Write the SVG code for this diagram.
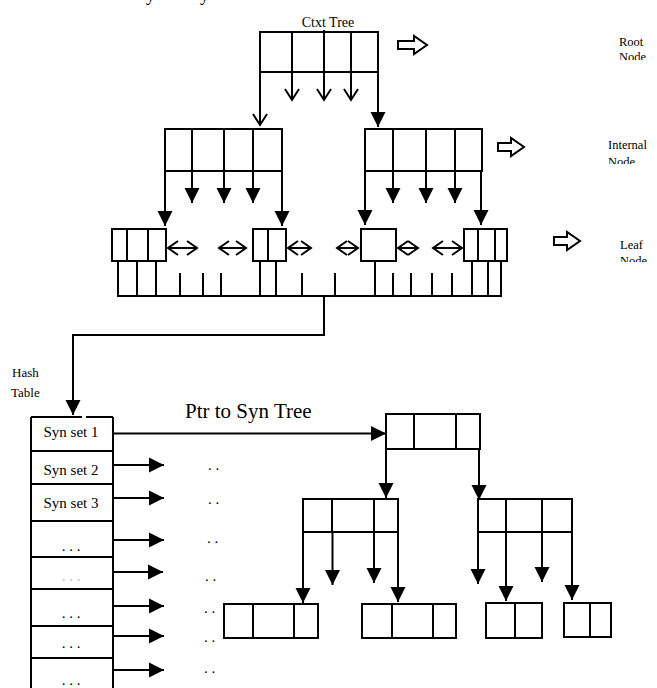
<svg xmlns="http://www.w3.org/2000/svg" width="657" height="688" viewBox="0 0 657 688">
<style>
.box{fill:#fff;stroke:#000;stroke-width:2}
.div{stroke:#000;stroke-width:2}
.ln{stroke:#000;stroke-width:2;fill:none}
.blk{fill:#fff;stroke:#000;stroke-width:2;stroke-linejoin:miter}
.t{font-family:"Liberation Serif","Times New Roman",serif;fill:#000}
.lbl{font-size:12.5px}
.syn{font-size:15px}
.dots{font-size:15px}
</style>
<defs>
<marker id="solid" markerUnits="userSpaceOnUse" markerWidth="16" markerHeight="16" refX="15" refY="7.5" orient="auto" overflow="visible"><path d="M0,0 L15,7.5 L0,15 Z" fill="#000"/></marker>
<marker id="open" markerUnits="userSpaceOnUse" markerWidth="16" markerHeight="16" refX="11" refY="7" orient="auto" overflow="visible"><path d="M0,0 L11,7 L0,14" fill="none" stroke="#000" stroke-width="2"/></marker>
<clipPath id="cRoot"><rect x="600" y="25" width="57" height="35"/></clipPath>
<clipPath id="cInt"><rect x="600" y="125" width="57" height="39"/></clipPath>
<clipPath id="cLeaf"><rect x="600" y="225" width="57" height="37"/></clipPath>
</defs>

<text class="t" x="146" y="1" font-size="18">y</text>
<text class="t" x="200" y="1" font-size="18">y</text>

<text class="t" x="328" y="27" text-anchor="middle" font-size="14">Ctxt Tree</text>

<g id="legend">
<g clip-path="url(#cRoot)"><text class="t lbl" x="619" y="46">Root</text><text class="t lbl" x="619" y="61">Node</text></g>
<g clip-path="url(#cInt)"><text class="t lbl" x="608" y="149">Internal</text><text class="t lbl" x="608" y="166">Node</text></g>
<g clip-path="url(#cLeaf)"><text class="t lbl" x="620" y="249">Leaf</text><text class="t lbl" x="620" y="265">Node</text></g>
<polygon class="blk" points="398,41 414,41 414,36 427,45 414,54 414,49 398,49"/>
<polygon class="blk" points="498,143 511,143 511,138 524,147 511,156 511,151 498,151"/>
<polygon class="blk" points="554,237 567,237 567,232 580,241 567,250 567,245 554,245"/>
</g>

<g id="ctxt-root">
<rect class="box" x="260" y="32" width="118" height="40"/>
<line class="div" x1="292" y1="32" x2="292" y2="72"/>
<line class="div" x1="324" y1="30" x2="324" y2="72"/>
<line class="div" x1="351" y1="32" x2="351" y2="72"/>
</g>

<g id="ctxt-internal-left">
<rect class="box" x="165" y="129" width="117" height="42"/>
<line class="div" x1="192" y1="129" x2="192" y2="171"/>
<line class="div" x1="224" y1="129" x2="224" y2="171"/>
<line class="div" x1="253" y1="129" x2="253" y2="171"/>
</g>

<g id="ctxt-internal-right">
<rect class="box" x="365" y="129" width="117" height="42"/>
<line class="div" x1="393" y1="129" x2="393" y2="171"/>
<line class="div" x1="426" y1="129" x2="426" y2="171"/>
<line class="div" x1="455" y1="129" x2="455" y2="171"/>
</g>

<g id="ctxt-leaf-1">
<rect class="box" x="112" y="229" width="54" height="32"/>
<line class="div" x1="127" y1="229" x2="127" y2="261"/>
<line class="div" x1="148" y1="229" x2="148" y2="261"/>
</g>
<g id="ctxt-leaf-2">
<rect class="box" x="253" y="229" width="33" height="32"/>
<line class="div" x1="268" y1="229" x2="268" y2="261"/>
</g>
<g id="ctxt-leaf-3">
<rect class="box" x="361" y="229" width="35" height="32"/>
</g>
<g id="ctxt-leaf-4">
<rect class="box" x="464" y="229" width="43" height="32"/>
<line class="div" x1="478" y1="229" x2="478" y2="261"/>
<line class="div" x1="495" y1="229" x2="495" y2="261"/>
</g>

<g id="hash-label">
<text class="t" x="12" y="377" font-size="13">Hash</text>
<text class="t" x="11" y="397" font-size="13">Table</text>
</g>

<g id="hash-table">
<path class="ln" d="M31,417 H82 M86,417 H113 M31,417 V690 M113,417 V690 M31,451 H113 M31,484 H113 M31,521 H113 M31,557 H113 M31,589 H113 M31,626 H113 M31,658 H113"/>
<text class="t syn" x="71" y="437" text-anchor="middle">Syn set 1</text>
<text class="t syn" x="71" y="475" text-anchor="middle">Syn set 2</text>
<text class="t syn" x="71" y="508" text-anchor="middle">Syn set 3</text>
<text class="t dots" x="71" y="551" text-anchor="middle">. . .</text>
<text class="t dots" x="71" y="581" text-anchor="middle" style="fill:#bbb">. . .</text>
<text class="t dots" x="71" y="618" text-anchor="middle">. . .</text>
<text class="t dots" x="71" y="648" text-anchor="middle">. . .</text>
<text class="t dots" x="71" y="685" text-anchor="middle">. . .</text>
</g>

<g id="ptr-label">
<text class="t" x="185" y="418" font-size="21">Ptr to Syn Tree</text>
</g>

<g id="dangling-dots">
<text class="t dots" x="208" y="470">. .</text>
<text class="t dots" x="208" y="504">. .</text>
<text class="t dots" x="207" y="543">. .</text>
<text class="t dots" x="205" y="581">. .</text>
<text class="t dots" x="204" y="613">. .</text>
<text class="t dots" x="204" y="642">. .</text>
<text class="t dots" x="204" y="673">. .</text>
</g>

<g id="syn-root">
<rect class="box" x="386" y="414" width="94" height="35"/>
<line class="div" x1="414" y1="414" x2="414" y2="449"/>
<line class="div" x1="456" y1="414" x2="456" y2="449"/>
</g>
<g id="syn-internal-left">
<rect class="box" x="303" y="499" width="95" height="33"/>
<line class="div" x1="332" y1="499" x2="332" y2="532"/>
<line class="div" x1="374" y1="499" x2="374" y2="532"/>
</g>
<g id="syn-internal-right">
<rect class="box" x="478" y="499" width="94" height="33"/>
<line class="div" x1="506" y1="499" x2="506" y2="532"/>
<line class="div" x1="542" y1="499" x2="542" y2="532"/>
</g>
<g id="syn-leaf-a">
<rect class="box" x="224" y="604" width="94" height="34"/>
<line class="div" x1="253" y1="604" x2="253" y2="638"/>
<line class="div" x1="294" y1="604" x2="294" y2="638"/>
</g>
<g id="syn-leaf-b">
<rect class="box" x="362" y="604" width="94" height="34"/>
<line class="div" x1="392" y1="604" x2="392" y2="638"/>
<line class="div" x1="433" y1="604" x2="433" y2="638"/>
</g>
<g id="syn-leaf-c">
<rect class="box" x="486" y="603" width="56" height="35"/>
<line class="div" x1="515" y1="603" x2="515" y2="638"/>
</g>
<g id="syn-leaf-d">
<rect class="box" x="564" y="603" width="47" height="34"/>
<line class="div" x1="590" y1="603" x2="590" y2="637"/>
</g>

<g id="connectors">
<line class="ln" x1="260" y1="72" x2="260" y2="125" marker-end="url(#open)"/>
<line class="ln" x1="292" y1="72" x2="292" y2="100" marker-end="url(#open)"/>
<line class="ln" x1="324" y1="72" x2="324" y2="100" marker-end="url(#open)"/>
<line class="ln" x1="351" y1="72" x2="351" y2="100" marker-end="url(#open)"/>
<line class="ln" x1="378" y1="72" x2="378" y2="127" marker-end="url(#solid)"/>
<line class="ln" x1="165" y1="171" x2="165" y2="226" marker-end="url(#solid)"/>
<line class="ln" x1="192" y1="171" x2="192" y2="203" marker-end="url(#solid)"/>
<line class="ln" x1="224" y1="171" x2="224" y2="203" marker-end="url(#solid)"/>
<line class="ln" x1="253" y1="171" x2="253" y2="203" marker-end="url(#solid)"/>
<line class="ln" x1="282" y1="171" x2="282" y2="226" marker-end="url(#solid)"/>
<line class="ln" x1="365" y1="171" x2="365" y2="225" marker-end="url(#solid)"/>
<line class="ln" x1="393" y1="171" x2="393" y2="203" marker-end="url(#solid)"/>
<line class="ln" x1="426" y1="171" x2="426" y2="203" marker-end="url(#solid)"/>
<line class="ln" x1="455" y1="171" x2="455" y2="203" marker-end="url(#solid)"/>
<line class="ln" x1="481" y1="171" x2="481" y2="225" marker-end="url(#solid)"/>
<path class="ln" d="M178,241 L168,248 L178,255 M187,241 L197,248 L187,255 M168,248 H197"/>
<path class="ln" d="M229,241 L219,248 L229,255 M236,241 L246,248 L236,255 M219,248 H246"/>
<path class="ln" d="M298,241 L288,248 L298,255 M301,241 L311,248 L301,255 M288,248 H311"/>
<path class="ln" d="M347,241 L337,248 L347,255 M348,241 L358,248 L348,255 M337,248 H358"/>
<path class="ln" d="M408,241 L398,248 L408,255 M408,241 L418,248 L408,255 M398,248 H418"/>
<path class="ln" d="M443,241 L433,248 L443,255 M452,241 L462,248 L452,255 M433,248 H462"/>
<path class="ln" d="M117,296 H502 M118,261 V296 M137,261 V296 M156,261 V296 M260,261 V296 M276,261 V296 M375,261 V296 M472,261 V296 M488,261 V296 M501,261 V296 M180,273 V296 M203,273 V296 M221,273 V296 M302,273 V296 M335,273 V296 M393,273 V296 M411,273 V296 M432,273 V296 M452,273 V296"/>
<path class="ln" d="M324,296 V335 H73 V415" marker-end="url(#solid)"/>
<line class="ln" x1="113" y1="433.5" x2="386" y2="433.5" marker-end="url(#solid)"/>
<line class="ln" x1="113" y1="465" x2="164" y2="465" marker-end="url(#solid)"/>
<line class="ln" x1="113" y1="498" x2="164" y2="498" marker-end="url(#solid)"/>
<line class="ln" x1="113" y1="540" x2="164" y2="540" marker-end="url(#solid)"/>
<line class="ln" x1="113" y1="572" x2="163" y2="572" marker-end="url(#solid)"/>
<line class="ln" x1="113" y1="606" x2="164" y2="606" marker-end="url(#solid)"/>
<line class="ln" x1="112" y1="636" x2="164" y2="636" marker-end="url(#solid)"/>
<line class="ln" x1="112" y1="670" x2="164" y2="670" marker-end="url(#solid)"/>
<line class="ln" x1="386" y1="449" x2="386" y2="498" marker-end="url(#solid)"/>
<line class="ln" x1="479" y1="450" x2="479" y2="500" marker-end="url(#solid)"/>
<line class="ln" x1="303" y1="532" x2="303" y2="603" marker-end="url(#solid)"/>
<line class="ln" x1="332.5" y1="532" x2="332.5" y2="585" marker-end="url(#solid)"/>
<line class="ln" x1="374" y1="532" x2="374" y2="583" marker-end="url(#solid)"/>
<line class="ln" x1="398" y1="532" x2="398" y2="602" marker-end="url(#solid)"/>
<line class="ln" x1="478" y1="532" x2="478" y2="584" marker-end="url(#solid)"/>
<line class="ln" x1="506" y1="532" x2="506" y2="601" marker-end="url(#solid)"/>
<line class="ln" x1="542" y1="532" x2="542" y2="582" marker-end="url(#solid)"/>
<line class="ln" x1="572" y1="532" x2="572" y2="600" marker-end="url(#solid)"/>
</g>
</svg>
